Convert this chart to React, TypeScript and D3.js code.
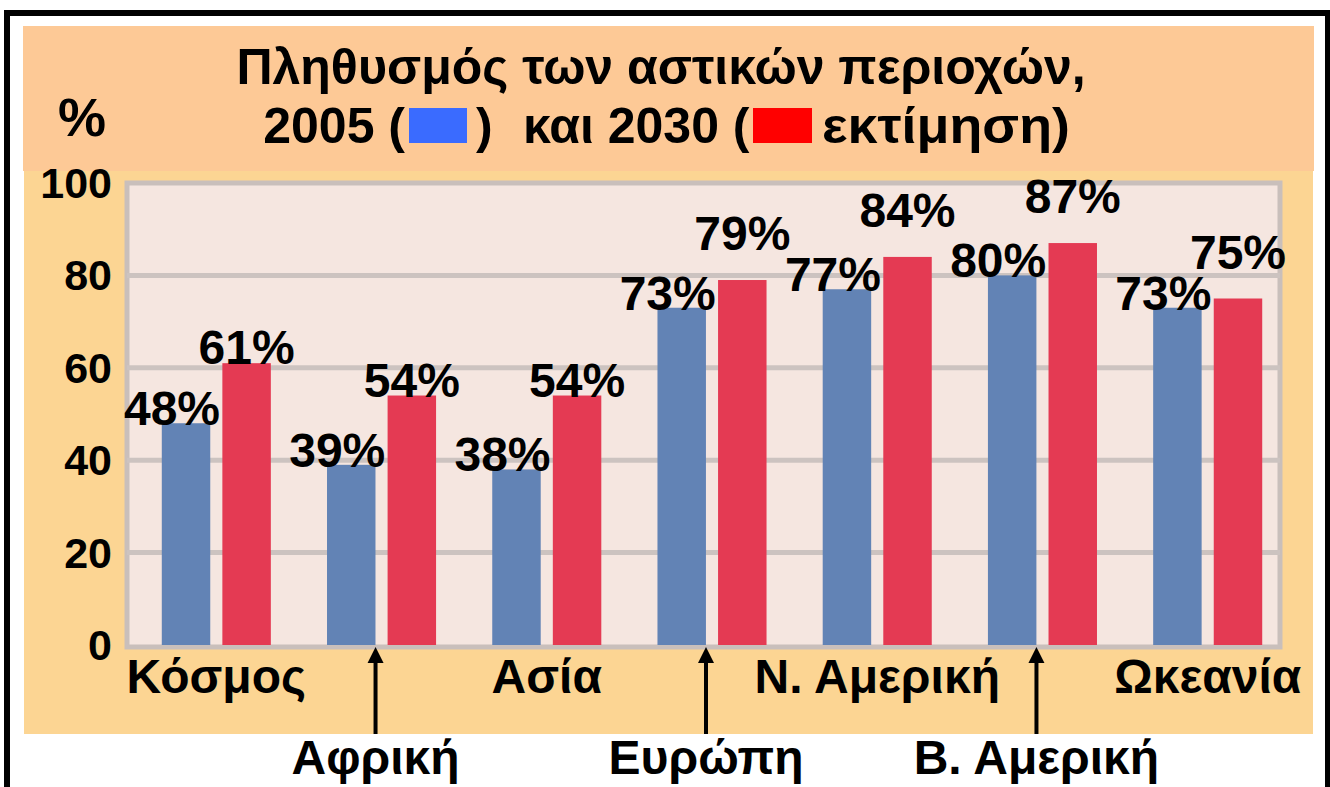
import * as d3 from "d3";

// regions, 2005 share vs 2030 estimate (urban population, %)
const categories = ["Κόσμος", "Αφρική", "Ασία", "Ευρώπη", "Ν. Αμερική", "Β. Αμερική", "Ωκεανία"];
const years = ["2005", "2030"];
const values2005 = [48, 39, 38, 73, 77, 80, 73];
const values2030 = [61, 54, 54, 79, 84, 87, 75];
const yTicks = [0, 20, 40, 60, 80, 100];
// labels that sit below the axis, pointed to by an arrow
const arrowed = ["Αφρική", "Ευρώπη", "Β. Αμερική"];

const W = 1330;
const H = 787;
const plot = { left: 127, right: 1280, top: 183, bottom: 645 };

const BLUE = "#6283b5";
const RED = "#e43a53";
const FONT = "'Liberation Sans', Arial, sans-serif";

export default function App() {
  const x0 = d3
    .scaleBand<string>()
    .domain(categories)
    .range([137, 1287])
    .paddingInner(0.34)
    .paddingOuter(0.15);
  const x1 = d3.scaleBand<string>().domain(years).range([0, x0.bandwidth()]).paddingInner(0.2);
  const y = d3.scaleLinear().domain([0, 100]).range([plot.bottom, plot.top]);

  const rows = categories.map((c, i) => ({ c, v: [values2005[i], values2030[i]] }));
  const gap = x1.step() - x1.bandwidth();

  return (
    <svg width={W} height={H} style={{ position: "absolute", left: 0, top: 0 }} fontFamily={FONT}>
      <rect width={W} height={H} fill="#fff" />
      {/* backgrounds */}
      <rect x={24} y={171} width={1289} height={563} fill="#fcd593" />
      <rect x={23} y={26} width={1291} height={145} fill="#fdc996" />

      {/* plot area */}
      <rect
        x={plot.left}
        y={plot.top}
        width={plot.right - plot.left}
        height={plot.bottom - plot.top + 2}
        fill="#f5e6e0"
        stroke="#c9bfbb"
        strokeWidth={5}
      />
      {yTicks.slice(1, -1).map((t) => (
        <line key={t} x1={plot.left} x2={plot.right} y1={y(t)} y2={y(t)} stroke="#ccc3c0" strokeWidth={5} />
      ))}
      {yTicks.map((t) => (
        <text key={t} x={112} y={y(t) + 15} textAnchor="end" fontSize={43} fontWeight="bold">
          {t}
        </text>
      ))}

      {/* bars */}
      {rows.map((r) => (
        <g key={r.c} transform={`translate(${x0(r.c)},0)`}>
          {years.map((yr, j) => (
            <rect
              key={yr}
              x={x1(yr)}
              y={y(r.v[j])}
              width={x1.bandwidth()}
              height={plot.bottom - y(r.v[j])}
              fill={j === 0 ? BLUE : RED}
            />
          ))}
        </g>
      ))}

      {/* value labels */}
      {rows.map((r) => {
        const close = r.v[1] - r.v[0] < 10;
        const bx = (x0(r.c) ?? 0) + (x1("2005") ?? 0) + x1.bandwidth() / 2 - 14;
        const rx = (x0(r.c) ?? 0) + (x1("2030") ?? 0) + x1.bandwidth() / 2;
        return (
          <g key={r.c} fontSize={48} fontWeight="bold" textAnchor="middle">
            <text x={bx} y={y(r.v[0]) + 2}>{r.v[0]}%</text>
            <text x={rx} y={y(r.v[1]) + 1 - (close ? 31 : 0)}>{r.v[1]}%</text>
          </g>
        );
      })}

      {/* category labels */}
      {categories.map((c) => {
        const cx = (x0(c) ?? 0) + x0.bandwidth() / 2;
        if (!arrowed.includes(c)) {
          return (
            <text key={c} x={cx} y={693} textAnchor="middle" fontSize={48} fontWeight="bold">
              {c}
            </text>
          );
        }
        const ax = (x0(c) ?? 0) + (x1("2030") ?? 0) - gap / 2 - 6;
        return (
          <g key={c}>
            <line x1={ax} x2={ax} y1={734} y2={660} stroke="#000" strokeWidth={4} />
            <path d={`M${ax},647 L${ax - 8},663 L${ax + 8},663 Z`} fill="#000" />
            <text x={ax} y={774} textAnchor="middle" fontSize={48} fontWeight="bold">
              {c}
            </text>
          </g>
        );
      })}

      {/* title */}
      <text x={82} y={136} textAnchor="middle" fontSize={54} fontWeight="bold">%</text>
      <text x={661} y={84} textAnchor="middle" fontSize={50} fontWeight="bold">
        Πληθυσμός των αστικών περιοχών,
      </text>
      <g fontSize={50} fontWeight="bold">
        <text x={405} y={143} textAnchor="end">2005 (</text>
        <rect x={409} y={108} width={58} height={35} fill="#3a6bff" />
        <text x={476} y={143}>)</text>
        <text x={523} y={143}>και 2030 (</text>
        <rect x={753} y={108} width={59} height={35} fill="#ff0000" />
        <text x={822} y={143} textLength={248} lengthAdjust="spacingAndGlyphs">εκτίμηση)</text>
      </g>

      {/* frame */}
      <path d={`M7,${H + 10} V13 H1328 V${H + 10}`} fill="none" stroke="#000" strokeWidth={6} />
    </svg>
  );
}
